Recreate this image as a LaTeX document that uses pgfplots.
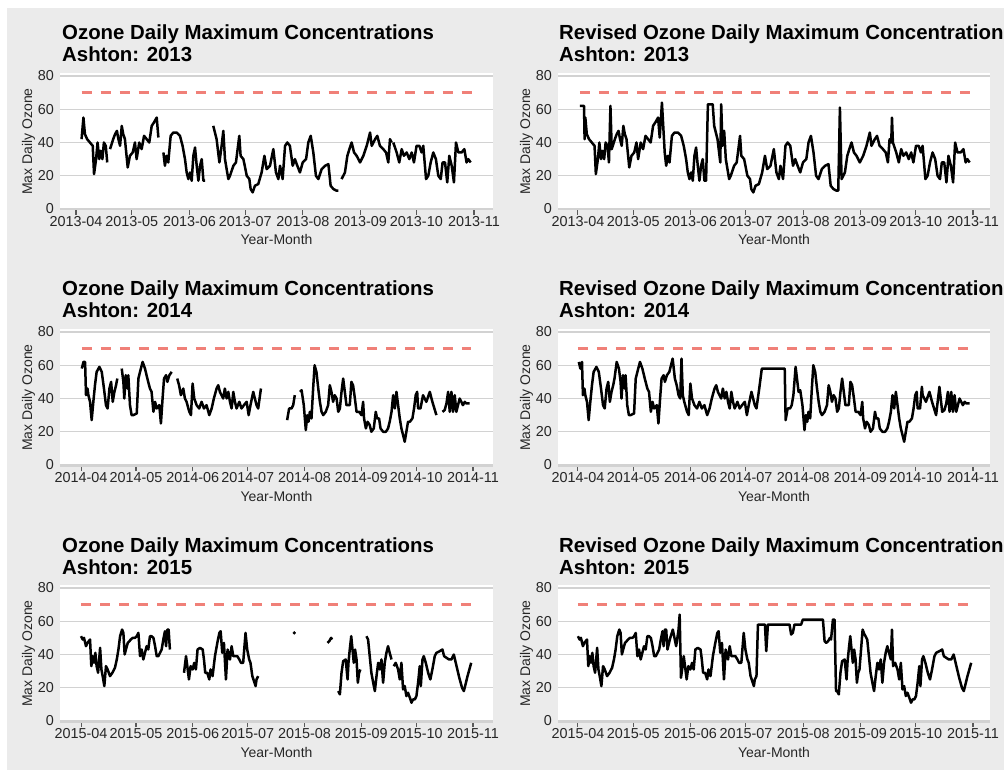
\documentclass[border=0pt]{standalone}
\usepackage{fontspec}
\setmainfont{Liberation Sans}
\usepackage{pgfplots}
\pgfplotsset{compat=1.18}
\usepackage{pgfplotstable}
\definecolor{bg}{RGB}{235,235,235}
\definecolor{gridc}{RGB}{210,210,210}
\definecolor{refred}{RGB}{240,128,120}
\definecolor{txt}{RGB}{38,38,38}
\definecolor{tickc}{RGB}{90,90,90}
\newcommand\titlefont{\fontsize{20.4}{24}\selectfont\bfseries}

\pgfplotstableread[row sep=\\]{x y\\
3 42\\ 4 55\\ 4.8 45\\ 6 42\\ 7.5 40\\ 9 38\\ 9.7 21\\ 10.8 30\\ 11.6 40\\ 12.5 30\\ 13.3 35\\ 14.2 30\\ 15 40\\ 16 38\\ 16.8 28\\ nan nan\\
18.3 36\\ 20 42\\ 21 45\\ 22 47\\ 22.8 42\\ 23.7 38\\ 24.6 50\\ 25.4 45\\ 26.3 42\\ 27.8 25\\ 29 32\\ 30.5 34\\ 31.7 40\\ 32.6 30\\ 34 40\\ 35.3 36\\ 36.6 44\\ 38 42\\ 39.4 40\\ 40.7 50\\ 41.9 52\\ 43.4 55\\ 44.3 43\\ nan nan\\
47 34\\ 47.8 26\\ 48.7 32\\ 49.6 28\\ 50.9 44\\ 52.3 46\\ 54.1 46\\ 55.9 44\\ 57.3 38\\ 58.6 30\\ 59.5 22\\ 60.4 18\\ 61.3 22\\ 62.2 17\\ 63.1 32\\ 64 37\\ 64.9 26\\ 65.8 17\\ 66.7 26\\ 67.6 30\\ 68.5 17\\ 69.4 17\\ nan nan\\
73.8 50\\ 75.6 42\\ 77.1 28\\ 78.3 38\\ 79.2 47\\ 80.1 30\\ 81.9 18\\ 82.8 20\\ 84.6 26\\ 86 28\\ 87.8 44\\ 88.5 32\\ 90 30\\ 91.8 20\\ 93.2 18\\ 93.9 12\\ 95 10\\ 96.2 14\\ 98 15\\ 99.8 22\\ 101.3 32\\ 102.5 24\\ 104.3 26\\ 106.1 36\\ 107.5 22\\ 108.8 18\\ 109.7 26\\ 111.1 18\\ 112.4 38\\ 113.6 40\\ 115 38\\ 116.5 26\\ 117.7 30\\ 119 26\\ 120.4 22\\ 121.9 28\\ 123.7 30\\ 124.9 40\\ 126.2 44\\ 127.6 34\\ 129 20\\ 130.3 18\\ 132.1 24\\ 133.9 26\\ 135.7 27\\ 136.9 14\\ 138.4 12\\ 140.1 11\\ 141 11\\ nan nan\\
142.8 18\\ 144.6 22\\ 145.9 32\\ 147 36\\ 148.2 40\\ 149.5 34\\ 150.9 32\\ 152.7 28\\ 154.5 32\\ 156.3 38\\ 158.1 46\\ 159 38\\ 160.8 42\\ 162 44\\ 163.4 38\\ 165.2 36\\ 166.7 34\\ 167.9 28\\ 168.8 42\\ 169.7 40\\ nan nan\\
170.6 40\\ 172.4 34\\ 173.8 28\\ 175.1 36\\ 176.3 32\\ 177.8 34\\ 179.2 30\\ 180.5 34\\ 181.7 28\\ 183.1 38\\ 184.6 38\\ 185.8 34\\ 186.7 38\\ 188.2 18\\ 189.4 20\\ 190.7 28\\ 192.1 34\\ 193.5 30\\ 194.8 20\\ 196.1 18\\ 197.1 28\\ 198.4 28\\ 199.6 16\\ 200.7 32\\ 202 26\\ 203.2 16\\ 204.3 40\\ 205.6 34\\ 207.3 34\\ 208.8 36\\ 210 28\\ 210.9 30\\ 212.2 28\\
}\tA

\pgfplotstableread[row sep=\\]{x y\\
1 62\\ 2 62\\ 3.3 62\\ 3.6 42\\ 4 55\\ 4.8 45\\ 6 42\\ 7.5 40\\ 9 38\\ 9.7 21\\ 10.8 30\\ 11.6 40\\ 12.5 30\\ 13.3 35\\ 14.2 30\\ 15 40\\ 16 38\\ 16.8 28\\ 17.6 62\\
18.3 36\\ 20 42\\ 21 45\\ 22 47\\ 22.8 42\\ 23.7 38\\ 24.6 50\\ 25.4 45\\ 26.3 42\\ 27.8 25\\ 29 32\\ 30.5 34\\ 31.7 40\\ 32.6 30\\ 34 40\\ 35.3 36\\ 36.6 44\\ 38 42\\ 39.4 40\\ 40.7 50\\ 41.9 52\\ 43.4 55\\ 44.3 43\\ 45.5 64\\
47 34\\ 47.8 26\\ 48.7 32\\ 49.6 28\\ 50.9 44\\ 52.3 46\\ 54.1 46\\ 55.9 44\\ 57.3 38\\ 58.6 30\\ 59.5 22\\ 60.4 18\\ 61.3 22\\ 62.2 17\\ 63.1 32\\ 64 37\\ 64.9 26\\ 65.8 17\\ 66.7 26\\ 67.6 30\\ 68.5 17\\ 69.4 17\\ 70.4 63\\ 73 63\\
73.8 50\\ 75.6 42\\ 77.1 28\\ 77.6 63\\ 78.3 38\\ 79.2 47\\ 80.1 30\\ 81.9 18\\ 82.8 20\\ 84.6 26\\ 86 28\\ 87.8 44\\ 88.5 32\\ 90 30\\ 91.8 20\\ 93.2 18\\ 93.9 12\\ 95 10\\ 96.2 14\\ 98 15\\ 99.8 22\\ 101.3 32\\ 102.5 24\\ 104.3 26\\ 106.1 36\\ 107.5 22\\ 108.8 18\\ 109.7 26\\ 111.1 18\\ 112.4 38\\ 113.6 40\\ 115 38\\ 116.5 26\\ 117.7 30\\ 119 26\\ 120.4 22\\ 121.9 28\\ 123.7 30\\ 124.9 40\\ 126.2 44\\ 127.6 34\\ 129 20\\ 130.3 18\\ 132.1 24\\ 133.9 26\\ 135.7 27\\ 136.9 14\\ 138.4 12\\ 140.1 11\\ 141 11\\ 141.9 61\\
142.8 18\\ 144.6 22\\ 145.9 32\\ 147 36\\ 148.2 40\\ 149.5 34\\ 150.9 32\\ 152.7 28\\ 154.5 32\\ 156.3 38\\ 158.1 46\\ 159 38\\ 160.8 42\\ 162 44\\ 163.4 38\\ 165.2 36\\ 166.7 34\\ 167.9 28\\ 168.8 42\\ 169.7 40\\ 170.1 55\\
170.6 40\\ 172.4 34\\ 173.8 28\\ 175.1 36\\ 176.3 32\\ 177.8 34\\ 179.2 30\\ 180.5 34\\ 181.7 28\\ 183.1 38\\ 184.6 38\\ 185.8 34\\ 186.7 38\\ 188.2 18\\ 189.4 20\\ 190.7 28\\ 192.1 34\\ 193.5 30\\ 194.8 20\\ 196.1 18\\ 197.1 28\\ 198.4 28\\ 199.6 16\\ 200.7 32\\ 202 26\\ 203.2 16\\ 204.3 40\\ 205.6 34\\ 207.3 34\\ 208.8 36\\ 210 28\\ 210.9 30\\ 212.2 28\\
}\tB

\pgfplotstableread[row sep=\\]{x y\\
0.4 58\\ 1.3 62\\ 2.2 62\\ 2.7 42\\ 3.5 46\\ 4 42\\ 4.9 38\\ 5.8 27\\ 6.7 38\\ 7.6 48\\ 8.5 56\\ 10 59\\ 11.3 56\\ 12.5 46\\ 13.6 36\\ 14.5 34\\ 15.5 46\\ 16.4 50\\ 17.3 38\\ 18.2 44\\ 19.1 48\\ 19.8 52\\ nan nan\\
22.2 58\\ 23.1 50\\ 23.6 40\\ 24.4 54\\ 25.3 46\\ 25.8 54\\ 26.7 36\\ 27.6 30\\ 28.5 30\\ 30.4 31\\ 31.3 52\\ 32.2 56\\ 33.6 62\\ 34.9 58\\ 36.2 52\\ 37.6 46\\ 38.5 44\\ 39.5 32\\ 40.4 38\\ 41.3 34\\ 42.7 36\\ 43.6 25\\ 44.5 40\\ 45.3 52\\ 46.4 54\\ 47.1 50\\ 48.2 54\\ 49.5 56\\ nan nan\\
52.5 52\\ 53.5 48\\ 54.5 42\\ 55.8 46\\ 56.7 40\\ 57.6 38\\ 59.1 32\\ 60 30\\ 60.9 49\\ 61.8 40\\ 63.1 36\\ 64.5 34\\ 65.8 38\\ 67.1 34\\ 68.5 36\\ 70 30\\ 71.3 34\\ 72.5 40\\ 74 46\\ 74.9 48\\ 75.8 44\\ 76.7 42\\ 77.6 40\\ 78.5 46\\ 79.5 40\\ 80.4 44\\ 81.3 38\\ 82.2 34\\ 83.1 44\\ 84 38\\ 84.9 34\\ 86.4 38\\ 87.6 34\\ 88.9 36\\ 90.4 38\\ 91.5 30\\ 92.5 36\\ 94 44\\ 94.9 40\\ 95.8 36\\ 96.7 34\\ 98.2 46\\ nan nan\\
112.5 27\\ 113.6 34\\ 114.9 34\\ 115.8 36\\ 116.7 42\\ nan nan\\
119.5 44\\ 120.4 45\\ 121.6 36\\ 122.7 21\\ 123.5 30\\ 124.2 26\\ 124.9 32\\ 125.8 28\\ 126.7 46\\ 127.5 60\\ 128.5 56\\ 129.5 46\\ 130.4 38\\ 131.3 32\\ 132.2 30\\ 133.6 32\\ 134.9 36\\ 135.8 48\\ 136.7 44\\ 137.6 38\\ 138.5 42\\ 139.5 40\\ 140.4 32\\ 141.3 34\\ 142.2 44\\ 143.1 52\\ 144 44\\ 144.9 36\\ 145.8 36\\ 146.7 36\\ 147.6 50\\ 148.5 48\\ 149.5 40\\ 150.4 32\\ 151.8 32\\ 153.1 30\\ 154 38\\ 154.5 28\\ 155.5 22\\ 156.4 26\\ 157.6 24\\ 158.5 20\\ 159.8 22\\ 160.9 32\\ 161.6 28\\ 162.7 28\\ 163.5 22\\ 164.9 20\\ 166.4 20\\ 167.6 22\\ 168.5 26\\ 169.5 32\\ 170.4 42\\ 171.3 34\\ 172.2 44\\ 173.1 36\\ 174 28\\ 174.9 22\\ 175.8 18\\ 176.7 14\\ 177.6 20\\ 178.5 26\\ 179.5 26\\ 180.9 28\\ 181.8 34\\ 182.7 42\\ 183.5 44\\ 184 34\\ 185.3 34\\ 186.7 42\\ 188.5 38\\ 190.4 44\\ 191.8 38\\ 194 30\\ nan nan\\
197.3 32\\ 198.5 33\\ 199.5 37\\ 200.4 44\\ 201.3 32\\ 202.2 44\\ 203.1 32\\ 204 42\\ 204.9 32\\ 205.8 36\\ 206.7 40\\ 207.6 38\\ 208.5 36\\ 209.5 38\\ 210.4 37\\ 212.2 37\\
}\tC

\pgfplotstableread[row sep=\\]{x y\\
0.5 62\\ 1.3 58\\ 2.2 62\\ 2.7 42\\ 3.5 46\\ 4 42\\ 4.9 38\\ 5.8 27\\ 6.7 38\\ 7.6 48\\ 8.5 56\\ 10 59\\ 11.3 56\\ 12.5 46\\ 13.6 36\\ 14.5 34\\ 15.5 46\\ 16.4 50\\ 17.3 38\\ 18.2 44\\ 19.1 48\\ 19.8 52\\ 21 62\\
22.2 58\\ 23.1 50\\ 23.6 40\\ 24.4 54\\ 25.3 46\\ 25.8 54\\ 26.7 36\\ 27.6 30\\ 28.5 30\\ 30.4 31\\ 31.3 52\\ 32.2 56\\ 33.6 62\\ 34.9 58\\ 36.2 52\\ 37.6 46\\ 38.5 44\\ 39.5 32\\ 40.4 38\\ 41.3 34\\ 42.7 36\\ 43.6 25\\ 44.5 40\\ 45.3 52\\ 46.4 54\\ 47.1 50\\ 48.2 54\\ 49.5 56\\ 51.3 64\\
52.5 52\\ 53.5 48\\ 54.5 42\\ 55.4 40\\ 56.1 64\\ 56.8 42\\ 57.6 38\\ 59.1 32\\ 60 30\\ 60.9 49\\ 61.8 40\\ 63.1 36\\ 64.5 34\\ 65.8 38\\ 67.1 34\\ 68.5 36\\ 70 30\\ 71.3 34\\ 72.5 40\\ 74 46\\ 74.9 48\\ 75.8 44\\ 76.7 42\\ 77.6 40\\ 78.5 46\\ 79.5 40\\ 80.4 44\\ 81.3 38\\ 82.2 34\\ 83.1 44\\ 84 38\\ 84.9 34\\ 86.4 38\\ 87.6 34\\ 88.9 36\\ 90.4 38\\ 91.5 30\\ 92.5 36\\ 94 44\\ 94.9 40\\ 95.8 36\\ 96.7 34\\ 98.2 46\\ 99.6 58\\ 112 58\\
112.5 27\\ 113.6 34\\ 114.9 34\\ 115.8 36\\ 116.7 42\\ 117.9 59\\
119.5 44\\ 120.4 45\\ 121.6 36\\ 122.7 21\\ 123.5 30\\ 124.2 26\\ 124.9 32\\ 125.8 28\\ 126.7 46\\ 127.5 60\\ 128.5 56\\ 129.5 46\\ 130.4 38\\ 131.3 32\\ 132.2 30\\ 133.6 32\\ 134.9 36\\ 135.8 48\\ 136.7 44\\ 137.6 38\\ 138.5 42\\ 139.5 40\\ 140.4 32\\ 141.3 34\\ 142.2 44\\ 143.1 52\\ 144 44\\ 144.9 36\\ 145.8 36\\ 146.7 36\\ 147.6 50\\ 148.5 48\\ 149.5 40\\ 150.4 32\\ 151.8 32\\ 153.1 30\\ 154 38\\ 154.5 28\\ 155.5 22\\ 156.4 26\\ 157.6 24\\ 158.5 20\\ 159.8 22\\ 160.9 32\\ 161.6 28\\ 162.7 28\\ 163.5 22\\ 164.9 20\\ 166.4 20\\ 167.6 22\\ 168.5 26\\ 169.5 32\\ 170.4 42\\ 171.3 34\\ 172.2 44\\ 173.1 36\\ 174 28\\ 174.9 22\\ 175.8 18\\ 176.7 14\\ 177.6 20\\ 178.5 26\\ 179.5 26\\ 180.9 28\\ 181.8 34\\ 182.7 42\\ 183.5 44\\ 184 34\\ 185.3 34\\ 186.3 47\\ 186.7 42\\ 188.5 38\\ 190.4 44\\ 191.8 38\\ 194 30\\ 195.8 47\\
197.3 32\\ 198.5 33\\ 199.5 37\\ 200.4 44\\ 201.3 32\\ 202.2 44\\ 203.1 32\\ 204 42\\ 204.9 32\\ 205.8 36\\ 206.7 40\\ 207.6 38\\ 208.5 36\\ 209.5 38\\ 210.4 37\\ 212.2 37\\
}\tD

\pgfplotstableread[row sep=\\]{x y\\
0 51\\ 0.9 49\\ 1.6 50\\ 2.7 45\\ 3.5 47\\ 4.2 48\\ 4.9 49\\ 5.6 33\\ 6.4 39\\ 7.1 35\\ 7.8 41\\ 8.5 33\\ 9.3 29\\ 10.4 44\\ 11.1 31\\ 11.8 27\\ 12.7 21\\ 13.6 33\\ 14.5 31\\ 15.8 27\\ 17.1 29\\ 18.5 32\\ 19.5 37\\ 20.4 43\\ 21.3 51\\ 22.4 55\\ 23.1 53\\ 23.8 40\\ 24.5 43\\ 25.5 47\\ 26.4 48\\ 27.1 49\\ 28.2 50\\ 29.5 50\\ 30.4 51\\ 31.3 53\\ 32.2 39\\ 33.1 43\\ 34 37\\ 34.9 41\\ 35.8 45\\ 36.7 43\\ 37.6 51\\ 38.5 51\\ 39.5 50\\ 40.4 45\\ 41.3 39\\ 42.2 39\\ 43.1 41\\ 44 43\\ 44.9 49\\ 45.8 54\\ 46.4 45\\ 47.1 55\\ 47.8 55\\ 48.5 43\\ nan nan\\
56.2 29\\ 57.3 39\\ 58 33\\ 58.9 25\\ 59.8 33\\ 60.9 31\\ 61.8 35\\ 62.7 31\\ 63.6 43\\ 64.9 44\\ 66.4 43\\ 67.1 37\\ 67.8 29\\ 68.9 29\\ 70 25\\ 70.7 31\\ 71.8 27\\ 73.1 39\\ 74.4 47\\ 75.5 53\\ 76.2 54\\ 77.1 41\\ 78 47\\ 79.1 25\\ 80 43\\ 81.3 37\\ 82.2 45\\ 83.1 39\\ 84 39\\ 85.3 39\\ 86.4 37\\ 87.3 35\\ 88.5 35\\ 89.8 53\\ 90.7 43\\ 91.8 37\\ 92.5 35\\ 93.5 27\\ 94.4 24\\ 95.3 21\\ 95.8 25\\ 96.7 27\\ nan nan\\
134.5 47\\ 135.5 48\\ 136.5 50\\ 137.1 49\\ nan nan\\
140.4 18\\ 141.3 16\\ 142.2 29\\ 143.1 36\\ 144.5 37\\ 145.5 25\\ 146 35\\ 146.7 43\\ 147.5 51\\ 148.2 43\\ 148.9 35\\ 149.6 43\\ 150.4 37\\ 151.1 23\\ 151.8 29\\ 152.5 31\\ nan nan\\
155.8 51\\ 156.7 49\\ 157.6 39\\ 158.5 29\\ 159.5 23\\ 160.4 18\\ 161.3 27\\ 162.2 35\\ 163.1 31\\ 164 37\\ 164.9 23\\ 165.8 35\\ 166.7 41\\ 167.6 45\\ 168.5 41\\ 169.5 37\\ nan nan\\
170.7 33\\ 171.8 35\\ 173.1 31\\ 174 25\\ 174.9 35\\ 175.8 19\\ 176.7 21\\ 177.6 15\\ 178.5 17\\ 179.5 14\\ 180.4 11\\ 181.3 13\\ 182.2 13\\ 183.1 15\\ 184 23\\ 184.9 33\\ 185.5 21\\ 186.4 37\\ 187.1 39\\ 188.2 35\\ 189.5 29\\ 190.7 25\\ 191.8 31\\ 193.1 39\\ 194 41\\ 195.8 42\\ 197.3 43\\ 198.2 39\\ 199.5 38\\ 200.9 37\\ 202.2 37\\ 203.5 40\\ 205 33\\ 206.5 26\\ 208 20\\ 209 18\\ 211 27\\ 213 35\\
}\tE

\pgfplotstableread[row sep=\\]{x y\\
0 51\\ 0.9 49\\ 1.6 50\\ 2.7 45\\ 3.5 47\\ 4.2 48\\ 4.9 49\\ 5.6 33\\ 6.4 39\\ 7.1 35\\ 7.8 41\\ 8.5 33\\ 9.3 29\\ 10.4 44\\ 11.1 31\\ 11.8 27\\ 12.7 21\\ 13.6 33\\ 14.5 31\\ 15.8 27\\ 17.1 29\\ 18.5 32\\ 19.5 37\\ 20.4 43\\ 21.3 51\\ 22.4 55\\ 23.1 53\\ 23.8 40\\ 24.5 43\\ 25.5 47\\ 26.4 48\\ 27.1 49\\ 28.2 50\\ 29.5 50\\ 30.4 51\\ 31.3 53\\ 32.2 39\\ 33.1 43\\ 34 37\\ 34.9 41\\ 35.8 45\\ 36.7 43\\ 37.6 51\\ 38.5 51\\ 39.5 50\\ 40.4 45\\ 41.3 39\\ 42.2 39\\ 43.1 41\\ 44 43\\ 44.9 49\\ 45.8 54\\ 46.4 45\\ 47.1 55\\ 47.8 55\\ 48.5 43\\ 50 50\\ 51.4 55\\ 53.2 45\\ 54.5 55\\ 55.1 64\\ 55.8 26\\
56.2 29\\ 57.3 39\\ 58 33\\ 58.9 25\\ 59.8 33\\ 60.9 31\\ 61.8 35\\ 62.7 31\\ 63.6 43\\ 64.9 44\\ 66.4 43\\ 67.1 37\\ 67.8 29\\ 68.9 29\\ 70 25\\ 70.7 31\\ 71.8 27\\ 73.1 39\\ 74.4 47\\ 75.5 53\\ 76.2 54\\ 77.1 41\\ 78 47\\ 79.1 25\\ 80 43\\ 81.3 37\\ 82.2 45\\ 83.1 39\\ 84 39\\ 85.3 39\\ 86.4 37\\ 87.3 35\\ 88.5 35\\ 89.8 53\\ 90.7 43\\ 91.8 37\\ 92.5 35\\ 93.5 27\\ 94.4 24\\ 95.3 21\\ 95.8 25\\ 96.7 27\\
97.5 58\\ 101.3 58\\ 102 42\\ 102.9 58\\ 114.6 58\\ 115.5 52\\ 116.4 53\\ 117.3 58\\ 120.9 58\\ 121.8 61\\ 132.7 61\\ 133.6 48\\
134.5 47\\ 135.5 48\\ 136.5 50\\ 137.1 49\\ 138.1 61\\ 139 61\\ 139.8 18\\
140.4 18\\ 141.3 16\\ 142.2 29\\ 143.1 36\\ 144.5 37\\ 145.5 25\\ 146 35\\ 146.7 43\\ 147.5 51\\ 148.2 43\\ 148.9 35\\ 149.6 43\\ 150.4 37\\ 151.1 23\\ 151.8 29\\ 152.5 31\\ 154.2 55\\ 155.2 52\\
155.8 51\\ 156.7 49\\ 157.6 39\\ 158.5 29\\ 159.5 23\\ 160.4 18\\ 161.3 27\\ 162.2 35\\ 163.1 31\\ 164 37\\ 164.9 23\\ 165.8 35\\ 166.7 41\\ 167.6 45\\ 168.5 41\\ 169.5 37\\ 170.1 55\\
170.7 33\\ 171.8 35\\ 173.1 31\\ 174 25\\ 174.9 35\\ 175.8 19\\ 176.7 21\\ 177.6 15\\ 178.5 17\\ 179.5 14\\ 180.4 11\\ 181.3 13\\ 182.2 13\\ 183.1 15\\ 184 23\\ 184.9 33\\ 185.5 21\\ 186.4 37\\ 187.1 39\\ 188.2 35\\ 189.5 29\\ 190.7 25\\ 191.8 31\\ 193.1 39\\ 194 41\\ 195.8 42\\ 197.3 43\\ 198.2 39\\ 199.5 38\\ 200.9 37\\ 202.2 37\\ 203.5 40\\ 205 33\\ 206.5 26\\ 208 20\\ 209 18\\ 211 27\\ 213 35\\
}\tF

\pgfplotsset{
  oz/.style={
    scale only axis, height=137pt,
    ymin=-0.6, ymax=81.8,
    ytick={0,20,40,60,80},
    xtick={0,30,61,91,122,153,183,214},
    axis background/.style={fill=white},
    separate axis lines,
    axis x line*=bottom, axis y line*=left,
    y axis line style={draw=none},
    x axis line style={draw=gridc, line width=1pt},
    ymajorgrids, major grid style={draw=gridc, line width=1.2pt},
    ytick style={draw=none},
    xtick style={draw=tickc, line width=1.1pt},
    tick align=outside, major tick length=5pt,
    /pgf/number format/assume math mode=true,
    tick label style={font=\fontsize{14.4}{16}\selectfont, text=txt},
    yticklabel style={inner sep=1pt},
    xticklabel style={inner sep=1.5pt},
    xlabel={Year-Month}, ylabel={Max Daily Ozone},
    label style={font=\fontsize{14}{16}\selectfont, text=txt},
    xlabel style={at={(axis description cs:0.5,0)}, anchor=base, yshift=-35pt},
    ylabel style={at={(axis description cs:-0.073,0.5)}, anchor=center},
    unbounded coords=jump,
  },
  oline/.style={black, line width=2.5pt, line join=round, no markers},
  hline/.style={refred, line width=2.8pt, dash pattern=on 10pt off 9pt, no markers},
}

\begin{document}
\begin{tikzpicture}
\path[use as bounding box] (0,0) rectangle (1004pt,772pt);
\fill[white] (0,0) rectangle (1004pt,772pt);
\fill[bg] (7pt,2pt) rectangle (1004pt,764pt);
\clip (0,0) rectangle (1004pt,772pt);

% Row 1
\begin{axis}[oz, at={(60pt,562pt)}, anchor=south west, width=433pt, xmin=-8.6, xmax=224.2,
  xticklabels={2013-04,2013-05,2013-06,2013-07,2013-08,2013-09,2013-10,2013-11}]
\addplot[hline] coordinates {(3,70) (213,70)};
\addplot[oline] table {\tA};
\end{axis}
\begin{axis}[oz, at={(558pt,562pt)}, anchor=south west, width=432pt, xmin=-10.8, xmax=223.2,
  xticklabels={2013-04,2013-05,2013-06,2013-07,2013-08,2013-09,2013-10,2013-11}]
\addplot[hline] coordinates {(1,70) (213,70)};
\addplot[oline] table {\tB};
\end{axis}

% Row 2
\begin{axis}[oz, at={(60pt,306pt)}, anchor=south west, width=433pt, xmin=-11.5, xmax=224.9,
  xticklabels={2014-04,2014-05,2014-06,2014-07,2014-08,2014-09,2014-10,2014-11}]
\addplot[hline] coordinates {(0.4,70) (213,70)};
\addplot[oline] table {\tC};
\end{axis}
\begin{axis}[oz, at={(558pt,306pt)}, anchor=south west, width=432pt, xmin=-10.8, xmax=223.2,
  xticklabels={2014-04,2014-05,2014-06,2014-07,2014-08,2014-09,2014-10,2014-11}]
\addplot[hline] coordinates {(0,70) (213,70)};
\addplot[oline] table {\tD};
\end{axis}

% Row 3
\begin{axis}[oz, at={(60pt,50pt)}, anchor=south west, width=433pt, xmin=-11.5, xmax=224.9,
  xticklabels={2015-04,2015-05,2015-06,2015-07,2015-08,2015-09,2015-10,2015-11}]
\addplot[hline] coordinates {(0,70) (213.5,70)};
\addplot[oline] table {\tE};
\addplot[only marks, mark=*, mark size=1.4pt, black] coordinates {(116.4,53)};
\end{axis}
\begin{axis}[oz, at={(558pt,50pt)}, anchor=south west, width=432pt, xmin=-10.8, xmax=223.2,
  xticklabels={2015-04,2015-05,2015-06,2015-07,2015-08,2015-09,2015-10,2015-11}]
\addplot[hline] coordinates {(0,70) (213,70)};
\addplot[oline] table {\tF};
\end{axis}

% Titles
\begin{scope}[every node/.style={anchor=base west, inner sep=0pt, font=\titlefont, text=black}]
\node at (62pt,732pt) {Ozone Daily Maximum Concentrations};
\node at (62pt,710pt) {Ashton: 2013};
\node at (559pt,732pt) {Revised Ozone Daily Maximum Concentrations};
\node at (559pt,710pt) {Ashton: 2013};
\node at (62pt,476.5pt) {Ozone Daily Maximum Concentrations};
\node at (62pt,454.5pt) {Ashton: 2014};
\node at (559pt,476.5pt) {Revised Ozone Daily Maximum Concentrations};
\node at (559pt,454.5pt) {Ashton: 2014};
\node at (62pt,220pt) {Ozone Daily Maximum Concentrations};
\node at (62pt,198pt) {Ashton: 2015};
\node at (559pt,220pt) {Revised Ozone Daily Maximum Concentrations};
\node at (559pt,198pt) {Ashton: 2015};
\end{scope}
\end{tikzpicture}
\end{document}
